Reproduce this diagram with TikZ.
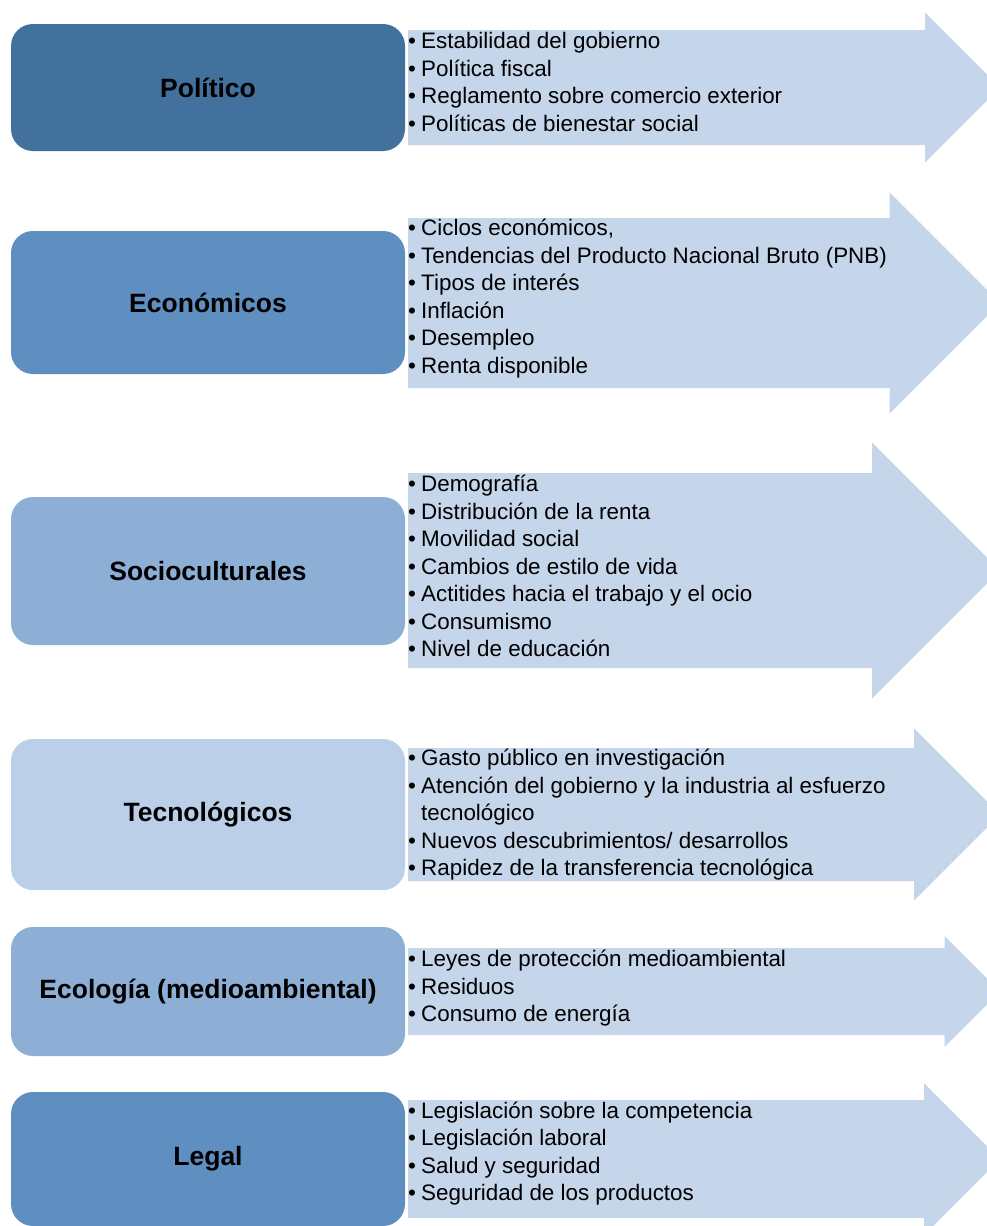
\documentclass[tikz,border=0pt]{standalone}
\usepackage{fontspec}
\setmainfont{Liberation Sans}
\usetikzlibrary{positioning}

\definecolor{oscuro}{HTML}{41719C}
\definecolor{medio}{HTML}{5F8EC0}
\definecolor{claro}{HTML}{8EAFD5}
\definecolor{palido}{HTML}{BCCFE9}
\definecolor{fondoflecha}{HTML}{C5D5EA}

\newcommand{\itm}{\makebox[13pt][l]{\textbullet}}
\newcommand{\ind}{\hspace*{13pt}}
% flecha: centro, medio cuerpo, media punta
\newcommand{\flecha}[3]{%
  \fill[fondoflecha] (408,{#1-#2}) -- ({1000-#3},{#1-#2}) -- ({1000-#3},{#1-#3}) -- (1000,#1)
    -- ({1000-#3},{#1+#3}) -- ({1000-#3},{#1+#2}) -- (408,{#1+#2}) -- cycle;}
% lista: nombre, primera linea base, lineas
\newcommand{\lista}[3]{%
  \foreach \txt [count=\i from 0] in {#3}
    \node[linea] (#1-\i) at (408,{#2+27.5*\i}) {\txt};}

\begin{document}
\begin{tikzpicture}[x=1pt, y=-1pt]
\tikzset{caja/.style={rounded corners=22pt, minimum width=394pt, inner sep=0pt, text=black,
    font=\bfseries\fontsize{26.5}{30}\selectfont},
  linea/.style={anchor=base west, inner sep=0pt, text=black, font=\fontsize{22.4}{27.5}\selectfont}}
\useasboundingbox (0,0) rectangle (987,1226);
\clip (0,0) rectangle (987,1226);

% flechas
\flecha{87.5}{57.5}{75}
\flecha{303}{85}{110.5}
\flecha{570.5}{97.5}{128}
\flecha{814.5}{66.5}{86}
\flecha{991.5}{43.5}{55.5}
\flecha{1159}{59}{76}

% cajas
\node[caja, fill=oscuro, minimum height=127pt]  (pol) at (208,87.5)   {Político};
\node[caja, fill=medio, minimum height=143pt]   (eco) at (208,302.5)  {Económicos};
\node[caja, fill=claro, minimum height=148pt]   (soc) at (208,571)    {Socioculturales};
\node[caja, fill=palido, minimum height=151pt]  (tec) at (208,814.5)  {Tecnológicos};
\node[caja, fill=claro, minimum height=129pt]   (eca) at (208,991.5)  {Ecología (medioambiental)};
\node[caja, fill=medio, minimum height=134pt]   (leg) at (208,1159)   {Legal};

% listas
\lista{pol}{48.5}{\itm Estabilidad del gobierno, \itm Política fiscal,
  \itm Reglamento sobre comercio exterior, \itm Políticas de bienestar social}
\lista{eco}{235.5}{{\itm Ciclos económicos,}, \itm Tendencias del Producto Nacional Bruto (PNB),
  \itm Tipos de interés, \itm Inflación, \itm Desempleo, \itm Renta disponible}
\lista{soc}{491.5}{\itm Demografía, \itm Distribución de la renta, \itm Movilidad social,
  \itm Cambios de estilo de vida, \itm Actitides hacia el trabajo y el ocio,
  \itm Consumismo, \itm Nivel de educación}
\lista{tec}{765.5}{\itm Gasto público en investigación,
  \itm Atención del gobierno y la industria al esfuerzo, \ind tecnológico,
  \itm Nuevos descubrimientos/ desarrollos, \itm Rapidez de la transferencia tecnológica}
\lista{eca}{966.5}{\itm Leyes de protección medioambiental, \itm Residuos, \itm Consumo de energía}
\lista{leg}{1118}{\itm Legislación sobre la competencia, \itm Legislación laboral,
  \itm Salud y seguridad, \itm Seguridad de los productos}
\end{tikzpicture}
\end{document}
